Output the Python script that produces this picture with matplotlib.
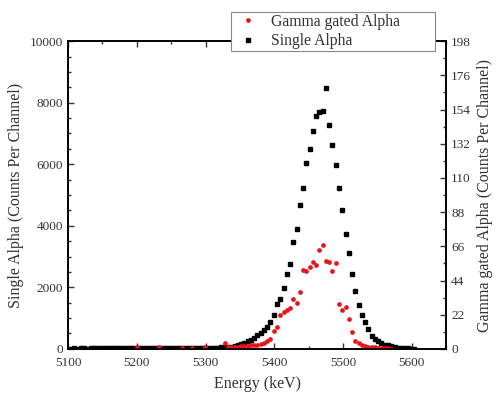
import numpy as np
import matplotlib
matplotlib.use('Agg')
import matplotlib.pyplot as plt
from matplotlib.ticker import MultipleLocator

plt.rcParams['font.family'] = ['Liberation Serif', 'DejaVu Serif']

# channel energies (keV)
energy = [
    5104.5, 5109.25, 5114, 5118.75, 5123.5, 5128.25, 5133, 5137.75, 5142.5, 5147.25,
    5152, 5156.75, 5161.5, 5166.25, 5171, 5175.75, 5180.5, 5185.25, 5190, 5194.75,
    5199.5, 5204.25, 5209, 5213.75, 5218.5, 5223.25, 5228, 5232.75, 5237.5, 5242.25,
    5247, 5251.75, 5256.5, 5261.25, 5266, 5270.75, 5275.5, 5280.25, 5285, 5289.75,
    5294.5, 5299.25, 5304, 5308.75, 5313.5, 5318.25, 5323, 5327.75, 5332.5, 5337.25,
    5342, 5346.75, 5351.5, 5356.25, 5361, 5365.75, 5370.5, 5375.25, 5380, 5384.75,
    5389.5, 5394.25, 5399, 5403.75, 5408.5, 5413.25, 5418, 5422.75, 5427.5, 5432.25,
    5437, 5441.75, 5446.5, 5451.25, 5456, 5460.75, 5465.5, 5470.25, 5475, 5479.75,
    5484.5, 5489.25, 5494, 5498.75, 5503.5, 5508.25, 5513, 5517.75, 5522.5, 5527.25,
    5532, 5536.75, 5541.5, 5546.25, 5551, 5555.75, 5560.5, 5565.25, 5570, 5574.75,
    5579.5, 5584.25, 5589, 5593.75, 5598.5, 5603.25]

# single alpha counts per channel
single = [
    12, 14, 11, 13, 15, 12, 14, 16, 13, 15,
    17, 14, 16, 15, 18, 16, 17, 19, 18, 20,
    21, 19, 22, 24, 21, 23, 25, 24, 26, 28,
    25, 27, 29, 31, 28, 30, 33, 32, 35, 34,
    37, 36, 39, 41, 40, 44, 46, 50, 60, 75,
    95, 120, 153, 195, 250, 292, 365, 440, 520, 620,
    720, 880, 1104, 1451, 1623, 1970, 2435, 2750, 3484, 3886,
    4660, 5221, 6030, 6510, 7078, 7565, 7690, 7740, 8464, 7273,
    6623, 5990, 5244, 4500, 3724, 3127, 2435, 1893, 1438, 1094,
    877, 640, 422, 315, 240, 180, 140, 110, 80, 60,
    40, 30, 20, 15, 10, 5]

# gamma gated alpha counts per channel (0 = no point)
gamma = [
    0, 0, 0, 0, 0, 0, 0, 0, 0, 0,
    0, 0, 0, 0, 0, 0, 0, 0, 0, 0,
    1.0, 0, 0, 0, 0, 0, 0, 1.0, 0, 0,
    0, 0, 0, 0, 0.8, 0, 0, 0.8, 0, 0,
    0, 1.0, 0, 0, 0, 0, 0, 3.7, 1.0, 1.1,
    1.3, 1.4, 1.6, 1.8, 2.0, 2.2, 2.4, 2.6, 3.2, 3.9,
    5.3, 6.2, 11.6, 14.1, 22.0, 23.5, 24.8, 26.0, 32.0, 29.4,
    36.8, 50.8, 50.1, 52.9, 55.9, 53.8, 63.6, 66.9, 56.8, 55.9,
    50.1, 55.1, 28.9, 25.1, 27.2, 19.3, 11.1, 5.3, 3.6, 2.6,
    2.1, 1.5, 1.2, 0.9, 0.7, 0.5, 0.4, 0.3, 0.2, 0,
    0, 0, 0, 0, 0, 0]

e = np.array(energy)
s = np.array(single)
g = np.array(gamma)
m = g > 0

fig = plt.figure(figsize=(4.97, 3.96), dpi=100)
ax = fig.add_axes([0.137, 0.119, 0.761, 0.777])
ax2 = ax.twinx()

h1, = ax.plot(e, s, 's', color='black', markersize=3.4, label='Single Alpha')
h2, = ax2.plot(e[m], g[m], 'o', color='#e8141b', markersize=3.4, markeredgewidth=0,
               label='Gamma gated Alpha')

ax.set_xlim(5100, 5650)
ax.set_ylim(0, 10000)
ax2.set_ylim(0, 198)
ax.xaxis.set_major_locator(MultipleLocator(100))
ax.xaxis.set_minor_locator(MultipleLocator(50))
ax.yaxis.set_major_locator(MultipleLocator(2000))
ax.yaxis.set_minor_locator(MultipleLocator(500))
ax2.yaxis.set_major_locator(MultipleLocator(22))
ax2.yaxis.set_minor_locator(MultipleLocator(11))

ax.tick_params(which='both', direction='in', top=True, labelsize=9.5, width=1, colors='#333333')
ax.tick_params(which='major', length=4.5)
ax.tick_params(which='minor', length=2.5)
ax.tick_params(axis='x', pad=6)
ax2.tick_params(which='both', direction='in', labelsize=9.5, width=1, colors='#333333')
ax2.tick_params(which='major', length=4.5)
ax2.tick_params(which='minor', length=2.5)
for sp in ax.spines.values():
    sp.set_linewidth(1.2)
for sp in ax2.spines.values():
    sp.set_linewidth(1.2)

ax.set_xlabel('Energy (keV)', fontsize=11.5, color='#333333', labelpad=5)
ax.set_ylabel('Single Alpha (Counts Per Channel)', fontsize=11.5, color='#333333', labelpad=4)
ax2.set_ylabel('Gamma gated Alpha (Counts Per Channel)', fontsize=11.5, color='#333333', labelpad=4)

# legend box spans the top right region, overlapping the top spine
leg = fig.legend([h2, h1], ['Gamma gated Alpha', 'Single Alpha'],
                 loc='upper left', bbox_to_anchor=(231 / 497, 1 - 51 / 396, 204 / 497, 39 / 396),
                 mode='expand', fontsize=11.3, frameon=True, fancybox=False, framealpha=1,
                 edgecolor='#888888', handlelength=1.9, handletextpad=0.55,
                 borderpad=0.12, borderaxespad=0, labelspacing=0.2, markerscale=1.0)
leg.get_frame().set_linewidth(0.8)
for t in leg.get_texts():
    t.set_color('#333333')

fig.savefig('out.png', dpi=100)
